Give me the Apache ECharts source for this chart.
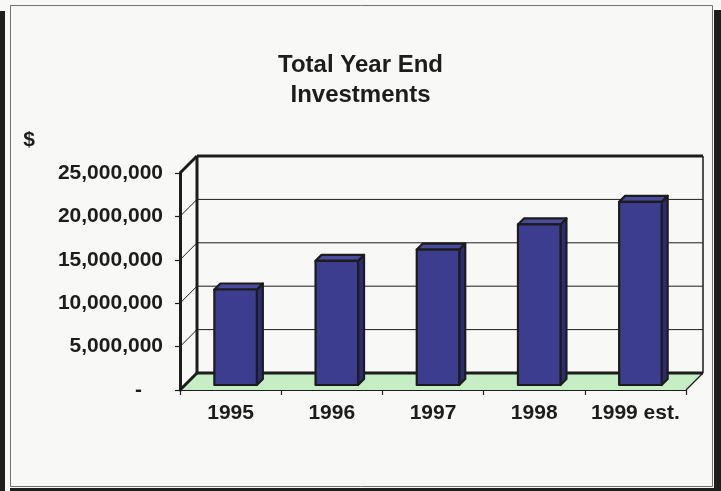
<!DOCTYPE html>
<html>
<head>
<meta charset="utf-8">
<script src="https://cdn.jsdelivr.net/npm/echarts@6/dist/echarts.min.js"></script>
<style>
  html, body { margin: 0; padding: 0; background: #f8f8f6; }
  #chart { width: 721px; height: 491px; }
</style>
</head>
<body>
<div id="chart"></div>
<script>
// Year-end totals
const years = ['1995', '1996', '1997', '1998', '1999 est.'];
const investments = [11000000, 14300000, 15600000, 18500000, 21100000];
const yTicks = [0, 5000000, 10000000, 15000000, 20000000, 25000000];
const yMax = 25000000;
const yStep = 5000000;

// Pseudo-3D depth settings (pixels)
const DEPTH = 17;        // distance from front plane to back wall
const BAR_FRONT = 5;     // bar front face depth
const BAR_BACK = 11;     // bar back face depth
const BAR_RATIO = 0.42;  // bar width relative to category band

const FONT = "'Liberation Sans', Arial, sans-serif";
const INK = '#1c1c1c';

const chart = echarts.init(document.getElementById('chart'), null, { renderer: 'canvas' });

function line(x1, y1, x2, y2, w) {
  return { type: 'line', shape: { x1, y1, x2, y2 }, style: { stroke: INK, lineWidth: w } };
}

// Walls, floor and gridlines, one item per value tick
function renderFrame(params, api) {
  const v = api.value(1);
  const band = api.size([1, 0])[0];
  const L = api.coord([0, 0])[0] - band / 2;
  const R = api.coord([years.length - 1, 0])[0] + band / 2;
  const y = api.coord([0, v])[1];
  const D = DEPTH;
  const children = [];
  if (v === 0) {
    children.push({
      type: 'polygon',
      shape: { points: [[L, y], [R, y], [R + D, y - D], [L + D, y - D]] },
      style: { fill: '#c6eec4' }
    });
    children.push(line(R, y, R + D, y - D, 1.2));
    children.push(line(L + D, y - D, R + D, y - D, 3));
    children.push(line(L, y, L + D, y - D, 3));
  } else if (v === yMax) {
    children.push(line(L + D, y - D, R + D, y - D, 3));
    children.push(line(L, y, L + D, y - D, 3));
    const yb = api.coord([0, 0])[1];
    children.push(line(L + D, y - D, L + D, yb - D, 3));
    children.push(line(R + D, y - D, R + D, yb - D, 1.5));
  } else {
    children.push(line(L + D, y - D, R + D, y - D, 1));
    children.push(line(L, y, L + D, y - D, 1));
  }
  return { type: 'group', children };
}

// Box-shaped bars: front face, right side and top
function renderBar(params, api) {
  const cat = api.value(0);
  const val = api.value(1);
  const base = api.coord([cat, 0]);
  const top = api.coord([cat, val]);
  const band = api.size([1, 0])[0];
  const w = band * BAR_RATIO;
  const x0 = base[0] - w / 2 + BAR_FRONT;
  const x1 = x0 + w;
  const yb = base[1] - BAR_FRONT;
  const yt = top[1] - BAR_FRONT;
  const d = BAR_BACK - BAR_FRONT;
  const edge = { stroke: INK, lineWidth: 2.2, lineJoin: 'round' };
  return {
    type: 'group',
    children: [
      {
        type: 'polygon',
        shape: { points: [[x1, yt], [x1 + d, yt - d], [x1 + d, yb - d], [x1, yb]] },
        style: Object.assign({ fill: '#2c2c74' }, edge)
      },
      {
        type: 'polygon',
        shape: { points: [[x0, yt], [x0 + d, yt - d], [x1 + d, yt - d], [x1, yt]] },
        style: Object.assign({ fill: '#4a4a9e' }, edge)
      },
      {
        type: 'rect',
        shape: { x: x0, y: yt, width: w, height: yb - yt },
        style: Object.assign({ fill: '#3d3d8f' }, edge)
      }
    ]
  };
}

const option = {
  backgroundColor: '#f8f8f6',
  animation: false,
  title: {
    text: 'Total Year End\nInvestments',
    left: 'center',
    top: 45,
    textStyle: {
      fontFamily: FONT,
      fontSize: 24,
      fontWeight: 'bold',
      color: INK,
      lineHeight: 30
    }
  },
  graphic: [
    { type: 'rect', shape: { x: 10.5, y: 5.5, width: 702, height: 481 }, style: { fill: null, stroke: '#707070', lineWidth: 1 }, silent: true },
    { type: 'rect', shape: { x: 0, y: 11, width: 5, height: 480 }, style: { fill: '#1e1e1e' }, silent: true },
    { type: 'rect', shape: { x: 714, y: 10, width: 7, height: 481 }, style: { fill: '#1e1e1e' }, silent: true },
    { type: 'rect', shape: { x: 10, y: 488, width: 711, height: 3 }, style: { fill: '#1e1e1e' }, silent: true }
  ],
  grid: { left: 180, top: 173, width: 506, height: 217, containLabel: false },
  xAxis: {
    type: 'category',
    data: years,
    z: 5,
    axisLine: { show: true, lineStyle: { color: INK, width: 1.2 } },
    axisTick: { show: true, interval: 0, length: 5, lineStyle: { color: INK, width: 1.2 } },
    axisLabel: {
      interval: 0,
      margin: 13,
      fontFamily: FONT,
      fontSize: 21,
      fontWeight: 'bold',
      color: INK
    },
    splitLine: { show: false }
  },
  yAxis: {
    type: 'value',
    min: 0,
    max: yMax,
    interval: yStep,
    z: 5,
    name: '$',
    nameLocation: 'end',
    nameGap: 22,
    nameTextStyle: {
      fontFamily: FONT,
      fontSize: 21,
      fontWeight: 'bold',
      color: INK,
      align: 'right',
      padding: [0, 145, 0, 0]
    },
    axisLine: { show: true, lineStyle: { color: INK, width: 3 } },
    axisTick: { show: true, length: 5, lineStyle: { color: INK, width: 1.2 } },
    axisLabel: {
      margin: 17,
      fontFamily: FONT,
      fontSize: 21,
      fontWeight: 'bold',
      color: INK,
      formatter: v => v === 0 ? '{d|-}' : v.toLocaleString('en-US'),
      rich: {
        d: { fontFamily: FONT, fontSize: 21, fontWeight: 'bold', color: INK, padding: [0, 21, 0, 0] }
      }
    },
    splitLine: { show: false }
  },
  series: [
    {
      type: 'custom',
      name: 'frame',
      z: 1,
      silent: true,
      renderItem: renderFrame,
      encode: { x: 0, y: 1 },
      data: yTicks.map(v => [0, v])
    },
    {
      type: 'custom',
      name: 'Total Year End Investments',
      z: 3,
      renderItem: renderBar,
      encode: { x: 0, y: 1 },
      data: years.map((y, i) => [i, investments[i]])
    }
  ]
};

chart.setOption(option);
</script>
</body>
</html>
